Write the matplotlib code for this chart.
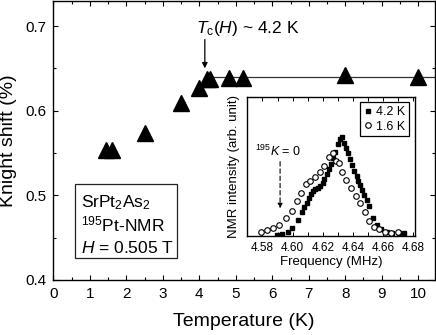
import matplotlib
matplotlib.use("Agg")
import numpy as np
from matplotlib import pyplot as plt
from matplotlib.patches import Rectangle
from matplotlib.ticker import MultipleLocator

plt.rcParams["font.family"] = ["Liberation Sans", "DejaVu Sans"]
plt.rcParams["mathtext.fontset"] = "custom"
plt.rcParams["mathtext.rm"] = "Liberation Sans"
plt.rcParams["mathtext.it"] = "Liberation Sans:italic"
plt.rcParams["mathtext.bf"] = "Liberation Sans:bold"

# Knight shift vs temperature (main panel)
temperature_k = [1.45, 1.6, 2.5, 3.5, 4.0, 4.2, 4.3, 4.8, 5.2, 8.0, 10.0]
knight_shift = [0.553, 0.553, 0.574, 0.6085, 0.627, 0.637, 0.637, 0.639, 0.639, 0.642, 0.640]
tc_k = 4.2
normal_shift = 0.64

# 195Pt NMR spectra (inset), intensity in arb. units
freq_42k = [4.5897, 4.5930, 4.5967, 4.5999, 4.6038, 4.6060, 4.6075, 4.6092, 4.6107, 4.6120,
            4.6135, 4.6151, 4.6168, 4.6183, 4.6198, 4.6211, 4.6226, 4.6239, 4.6255, 4.6270,
            4.6283, 4.6298, 4.6313, 4.6328, 4.6341, 4.6354, 4.6369, 4.6382, 4.6395, 4.6408,
            4.6423, 4.6436, 4.6449, 4.6462, 4.6475, 4.6490, 4.6503, 4.6529, 4.6558, 4.6588,
            4.6623, 4.6659, 4.6703, 4.6739]
int_42k = [0.010, 0.020, 0.044, 0.081, 0.161, 0.245, 0.295, 0.336, 0.379, 0.420,
           0.457, 0.473, 0.483, 0.500, 0.530, 0.571, 0.624, 0.671, 0.725, 0.782,
           0.849, 0.926, 0.980, 0.994, 0.940, 0.886, 0.832, 0.775, 0.712, 0.651,
           0.604, 0.557, 0.510, 0.463, 0.410, 0.359, 0.305, 0.178, 0.110, 0.067,
           0.044, 0.030, 0.027, 0.027]
freq_16k = [4.5794, 4.5830, 4.5869, 4.5913, 4.5956, 4.5993, 4.6027, 4.6058, 4.6086, 4.6116,
            4.6146, 4.6179, 4.6211, 4.6242, 4.6270, 4.6287, 4.6304, 4.6326, 4.6356, 4.6389,
            4.6417, 4.6447, 4.6477, 4.6508, 4.6538, 4.6573, 4.6612, 4.6653, 4.6696]
int_16k = [0.044, 0.060, 0.084, 0.111, 0.178, 0.255, 0.352, 0.436, 0.520, 0.554,
           0.591, 0.645, 0.705, 0.799, 0.839, 0.755, 0.732, 0.648, 0.564, 0.480,
           0.403, 0.329, 0.238, 0.154, 0.094, 0.067, 0.044, 0.034, 0.040]
k_zero_freq = 4.5917

fig = plt.figure(figsize=(4.36, 3.35), dpi=100)
ax = fig.add_axes([0.1227, 0.1642, 0.874, 0.834])

ax.plot([tc_k, 10.45], [normal_shift, normal_shift], color="#333333", lw=0.9, zorder=1)
ax.plot(temperature_k, knight_shift, "^", color="black", ms=11, zorder=2)

ax.set_xlim(0, 10.45)
ax.set_ylim(0.4, 0.73)
ax.xaxis.set_major_locator(MultipleLocator(1))
ax.xaxis.set_minor_locator(MultipleLocator(0.5))
ax.yaxis.set_major_locator(MultipleLocator(0.1))
ax.yaxis.set_minor_locator(MultipleLocator(0.05))
ax.yaxis.set_major_formatter(matplotlib.ticker.FormatStrFormatter("%.1f"))
ax.tick_params(which="both", direction="in", top=True, right=True, width=0.8, labelsize=11, pad=5)
ax.tick_params(which="major", length=3.5)
ax.tick_params(which="minor", length=2.5)
for s in ax.spines.values():
    s.set_linewidth(1.0)
ax.set_xlabel("Temperature (K)", fontsize=14, labelpad=9)
ax.set_ylabel("Knight shift (%)", fontsize=14, labelpad=6)

ax.annotate("", xy=(tc_k - 0.05, 0.650), xytext=(tc_k - 0.05, 0.684),
            arrowprops=dict(arrowstyle="-|>", color="black", lw=0.9,
                            mutation_scale=8, shrinkA=0, shrinkB=0))
ax.text(3.92, 0.6914, r"$T_{\rm c}$($H$) ~ 4.2 K", fontsize=12.5, va="baseline")

ax.add_patch(Rectangle((0.597, 0.4257), 2.80, 0.0873, fill=False, lw=0.9, ec="#222222"))
ax.text(0.76, 0.4862, r"SrPt$_2$As$_2$", fontsize=12.5, va="baseline")
ax.text(0.76, 0.4579, r"$^{195}$Pt-NMR", fontsize=12.5, va="baseline")
ax.text(0.76, 0.4314, r"$H$ = 0.505 T", fontsize=12.5, va="baseline")

# inset
ins = fig.add_axes([0.5672, 0.2955, 0.3846, 0.4158])
ins.plot(freq_42k, int_42k, "s", color="black", ms=3.2, label="4.2 K")
ins.plot(freq_16k, int_16k, "o", mfc="white", mec="black", mew=0.8, ms=4.0, label="1.6 K")
ins.set_xlim(4.57, 4.681)
ins.set_ylim(0, 1.403)
ins.xaxis.set_major_locator(MultipleLocator(0.02))
ins.xaxis.set_minor_locator(MultipleLocator(0.01))
ins.xaxis.set_major_formatter(matplotlib.ticker.FormatStrFormatter("%.2f"))
ins.set_yticks([])
ins.tick_params(which="both", direction="in", top=True, width=0.7, labelsize=8.5, pad=4)
ins.tick_params(which="major", length=3)
ins.tick_params(which="minor", length=3)
for s in ins.spines.values():
    s.set_linewidth(1.0)
ins.set_xlabel("Frequency (MHz)", fontsize=9.5, labelpad=2)
ins.set_ylabel("NMR intensity (arb. unit)", fontsize=9.5, labelpad=5)

ins.annotate("", xy=(k_zero_freq, 0.279), xytext=(k_zero_freq, 0.749),
             arrowprops=dict(arrowstyle="-|>", color="black", lw=0.8, ls=(0, (4, 2.5)),
                             mutation_scale=7, shrinkA=0, shrinkB=0))
ins.text(k_zero_freq - 0.0015, 0.85, r"$^{195}K$ = 0", fontsize=9, ha="center", va="center")

leg = ins.legend(loc="upper right", fontsize=9, handlelength=0.6, handletextpad=0.4,
                 borderpad=0.3, labelspacing=0.2, borderaxespad=0.45, fancybox=False,
                 framealpha=1, edgecolor="black")
leg.get_frame().set_linewidth(0.9)

fig.savefig("out.png", dpi=100)
